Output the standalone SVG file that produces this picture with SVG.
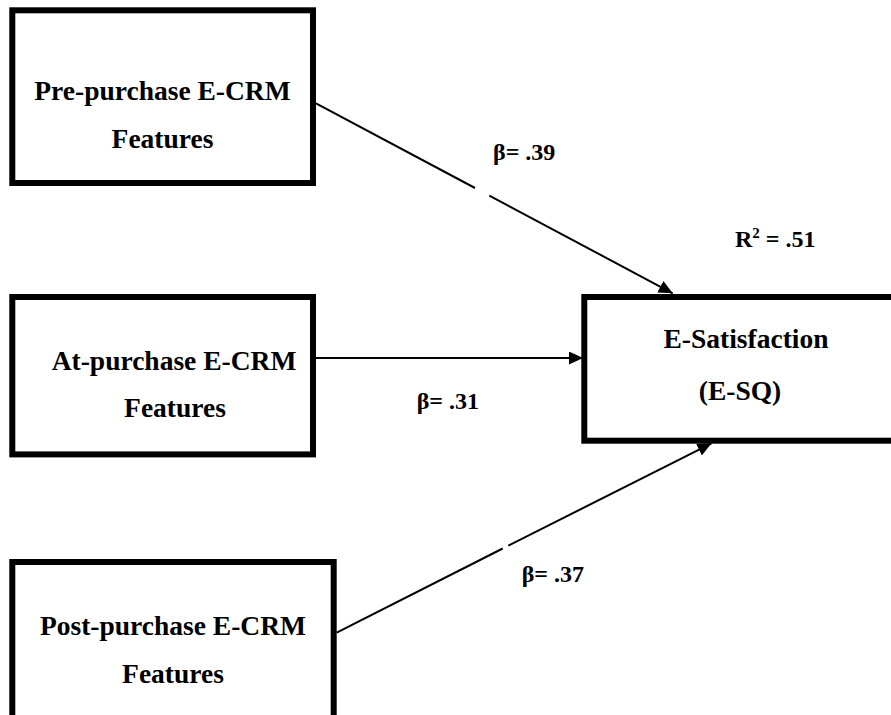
<svg xmlns="http://www.w3.org/2000/svg" width="891" height="715" viewBox="0 0 891 715">
  <style>
    .box { fill: #ffffff; stroke: #000000; stroke-width: 6; }
    .lbl { font-family: "Liberation Serif", "Times New Roman", serif; font-weight: bold; font-size: 27.5px; fill: #000000; text-anchor: middle; }
    .coef { font-family: "Liberation Serif", "Times New Roman", serif; font-weight: bold; font-size: 24px; fill: #000000; }
    .path { fill: none; stroke: #000000; stroke-width: 2; marker-end: url(#arrow); }
  </style>
  <defs>
    <marker id="arrow" viewBox="0 0 14 13" refX="14" refY="6.5" markerWidth="14" markerHeight="13" markerUnits="userSpaceOnUse" orient="auto">
      <path d="M0,0 L14,6.5 L0,13 z" fill="#000000"/>
    </marker>
  </defs>
  <rect width="891" height="715" fill="#ffffff"/>

  <!-- predictor: pre-purchase features -->
  <g id="pre-purchase">
    <rect class="box" x="12.3" y="10.3" width="300.7" height="172.7"/>
    <text class="lbl" x="162.5" y="100">Pre-purchase E-CRM</text>
    <text class="lbl" x="162.5" y="148">Features</text>
  </g>

  <!-- predictor: at-purchase features -->
  <g id="at-purchase">
    <rect class="box" x="12.3" y="297" width="300.7" height="157.4"/>
    <text class="lbl" x="174" y="370">At-purchase E-CRM</text>
    <text class="lbl" x="175" y="417">Features</text>
  </g>

  <!-- predictor: post-purchase features (runs past the bottom edge) -->
  <g id="post-purchase">
    <rect class="box" x="12.3" y="562" width="321.4" height="200"/>
    <text class="lbl" x="173" y="635">Post-purchase E-CRM</text>
    <text class="lbl" x="173" y="683">Features</text>
  </g>

  <!-- outcome: e-satisfaction (runs past the right edge) -->
  <g id="e-satisfaction">
    <rect class="box" x="584.3" y="297" width="330" height="143.7"/>
    <text class="lbl" x="746" y="348">E-Satisfaction</text>
    <text class="lbl" x="740" y="400">(E-SQ)</text>
    <text class="coef" x="735" y="247">R<tspan font-size="15" dy="-9">2</tspan><tspan dy="9"> = .51</tspan></text>
  </g>

  <!-- regression paths -->
  <g id="connectors">
    <path class="path" d="M316,103.3 L475,188 M489.3,195.6 L672.7,293.3"/>
    <path class="path" d="M316,358 L583,358"/>
    <path class="path" d="M336.7,632.7 L502.7,548.5 M508.3,545.7 L711.5,443.3"/>
  </g>

  <!-- path coefficients -->
  <g id="coefficients">
    <text class="coef" x="493" y="160">β= .39</text>
    <text class="coef" x="416.7" y="409">β= .31</text>
    <text class="coef" x="521.7" y="581.7">β= .37</text>
  </g>
</svg>
